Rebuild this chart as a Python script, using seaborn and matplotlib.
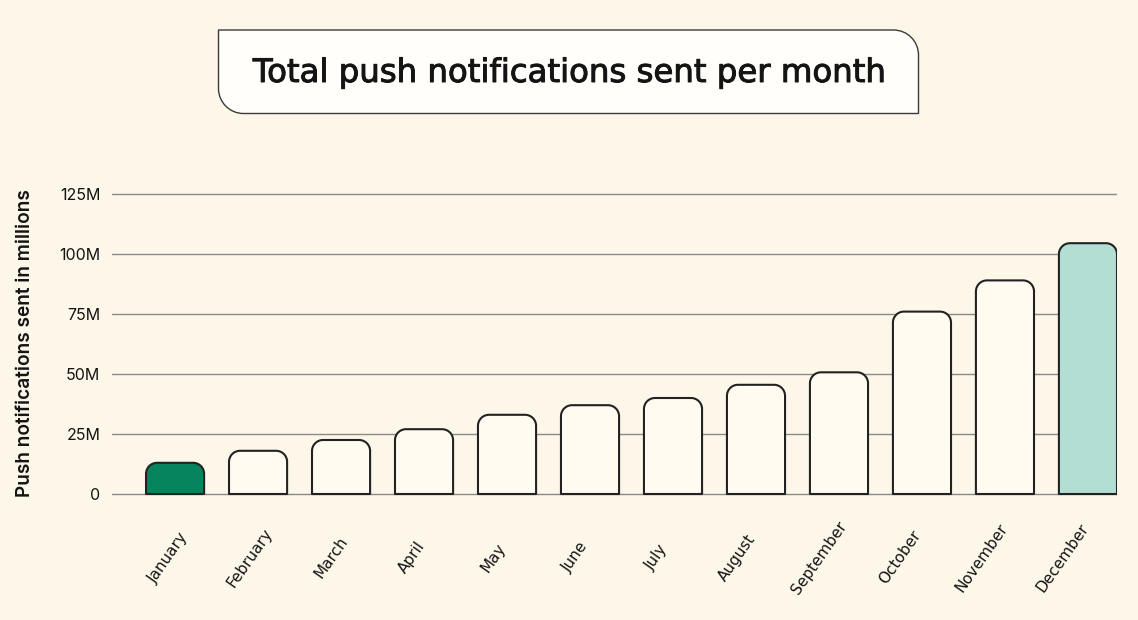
import numpy as np
import pandas as pd
import seaborn as sns
import matplotlib
matplotlib.use("Agg")
import matplotlib.pyplot as plt
import matplotlib.patheffects as pe
from matplotlib.path import Path
from matplotlib.patches import PathPatch
from matplotlib.transforms import Affine2D, ScaledTranslation

# ---------------- data ----------------
months = ["January", "February", "March", "April", "May", "June", "July",
          "August", "September", "October", "November", "December"]
notifications_m = [13, 18, 22.5, 27, 33, 37, 40, 45.5, 50.7, 76, 89, 104.5]
y_ticks = [0, 25, 50, 75, 100, 125]
y_tick_labels = ["0", "25M", "50M", "75M", "100M", "125M"]
title_text = "Total push notifications sent per month"
y_label_text = "Push notifications sent in millions"

# ---------------- style ----------------
BG = "#FDF7EA"
BAR_FILL = "#FFFBF1"
FIRST_FILL = "#05845D"
LAST_FILL = "#B3DED3"
EDGE = "#222222"
GRID = "#8C8A84"
TEXT = "#141414"
FONT = ["Inter", "DejaVu Sans"]
WIDE = ["DejaVu Sans"]

sns.set_theme(style="white")
plt.rcParams["font.family"] = FONT

W, H = 1138, 620
fig = plt.figure(figsize=(W / 100, H / 100), dpi=100, facecolor=BG)

# axes placement in pixels
ax_left, ax_right = 112, 1117
ax_top, ax_bottom = 189.2, 496.4
ax = fig.add_axes([ax_left / W, (H - ax_bottom) / H,
                   (ax_right - ax_left) / W, (ax_bottom - ax_top) / H])
ax.set_facecolor(BG)

df = pd.DataFrame({"month": months, "value": notifications_m})
colors = [FIRST_FILL] + [BAR_FILL] * (len(months) - 2) + [LAST_FILL]
sns.barplot(data=df, x="month", y="value", hue="month", palette=colors,
            legend=False, width=0.7, saturation=1, ax=ax,
            edgecolor=EDGE, linewidth=1.5)

ax.set_xlim(-0.76, 11.35)
ax.set_ylim(-1, 127)

# replace bars with rounded-top versions
p0 = ax.transData.transform((0, 0))
p1 = ax.transData.transform((1, 1))
px_x = p1[0] - p0[0]
px_y = p1[1] - p0[1]
r_px = 11
rx, ry = r_px / px_x, r_px / px_y
k = 0.5523
bars = list(ax.patches)
for b in bars:
    x0 = b.get_x()
    x1 = x0 + b.get_width()
    h = b.get_height()
    fc = b.get_facecolor()
    verts = [
        (x0, 0), (x0, h - ry),
        (x0, h - ry + k * ry), (x0 + rx - k * rx, h), (x0 + rx, h),
        (x1 - rx, h),
        (x1 - rx + k * rx, h), (x1, h - ry + k * ry), (x1, h - ry),
        (x1, 0), (x0, 0),
    ]
    codes = [Path.MOVETO, Path.LINETO,
             Path.CURVE4, Path.CURVE4, Path.CURVE4,
             Path.LINETO,
             Path.CURVE4, Path.CURVE4, Path.CURVE4,
             Path.LINETO, Path.CLOSEPOLY]
    b.remove()
    ax.add_patch(PathPatch(Path(verts, codes), facecolor=fc, edgecolor=EDGE,
                           linewidth=1.5, zorder=3, joinstyle="round"))

ax.set_xlim(-0.76, 11.35)
ax.set_ylim(-1, 127)

# grid & spines
ax.set_yticks(y_ticks, y_tick_labels)
ax.yaxis.grid(True, color=GRID, linewidth=1)
ax.xaxis.grid(False)
ax.set_axisbelow(True)
for s in ax.spines.values():
    s.set_visible(False)
ax.tick_params(axis="y", length=0, pad=8.5, labelsize=11.5, labelcolor=TEXT)
ax.tick_params(axis="x", length=0, pad=44, labelsize=11, labelcolor=TEXT)
ax.set_xlabel("")

for i, lbl in enumerate(ax.get_xticklabels()):
    lbl.set_rotation(55)
    lbl.set_ha("center")
    lbl.set_va("center")
    lbl.set_family(WIDE)
    dx = -(7 + 1.65 * i)
    lbl.set_transform(lbl.get_transform() +
                      ScaledTranslation(dx / 100, 0, fig.dpi_scale_trans))

ax.set_ylabel(y_label_text, fontsize=13.7, fontweight="semibold", color=TEXT,
              va="center", ha="center")
ax.yaxis.set_label_coords((25 - ax_left) / (ax_right - ax_left),
                          (ax_bottom - 343.5) / (ax_bottom - ax_top))

# ---------------- title box ----------------
bx0, bx1, by0, by1 = 218.5, 918.5, 30, 113.5   # pixel coords (top-down)
R = 25
kk = 0.5523
Y0, Y1 = H - by1, H - by0
bverts = [
    (bx0, Y1),
    (bx1 - R, Y1),
    (bx1 - R + kk * R, Y1), (bx1, Y1 - R + kk * R), (bx1, Y1 - R),
    (bx1, Y0),
    (bx0 + R, Y0),
    (bx0 + R - kk * R, Y0), (bx0, Y0 + R - kk * R), (bx0, Y0 + R),
    (bx0, Y1),
]
bcodes = [Path.MOVETO, Path.LINETO,
          Path.CURVE4, Path.CURVE4, Path.CURVE4,
          Path.LINETO, Path.LINETO,
          Path.CURVE4, Path.CURVE4, Path.CURVE4,
          Path.CLOSEPOLY]
pix2fig = Affine2D().scale(1 / W, 1 / H) + fig.transFigure
fig.add_artist(PathPatch(Path(bverts, bcodes), facecolor="#FFFEFB",
                         edgecolor="#3A3A3A", linewidth=1.0,
                         transform=pix2fig))
fig.text(569 / W, (H - 82) / H, title_text, ha="center", va="baseline",
         fontsize=23.3, color=TEXT, family=WIDE,
         path_effects=[pe.withStroke(linewidth=0.7, foreground=TEXT)])

fig.savefig("out.png", dpi=100, facecolor=BG)
